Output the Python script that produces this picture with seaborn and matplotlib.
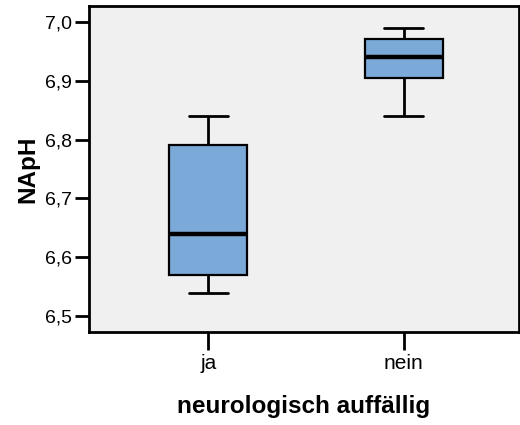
import numpy as np
import pandas as pd
import seaborn as sns
import matplotlib
matplotlib.use("Agg")
import matplotlib.pyplot as plt
from matplotlib.ticker import FixedLocator, FuncFormatter

# Five-number summaries per group (min, Q1, median, Q3, max)
groups = ["ja", "nein"]
ja_values = [6.54, 6.57, 6.64, 6.79, 6.84]
nein_values = [6.84, 6.905, 6.94, 6.97, 6.99]
y_ticks = [6.5, 6.6, 6.7, 6.8, 6.9, 7.0]

df = pd.DataFrame({
    "neurologisch auffällig": [groups[0]] * len(ja_values) + [groups[1]] * len(nein_values),
    "NApH": ja_values + nein_values,
})

sns.set_style("white")
plt.rcParams["font.family"] = ["Liberation Sans", "DejaVu Sans"]
plt.rcParams["text.color"] = "black"
plt.rcParams["axes.labelcolor"] = "black"

fig = plt.figure(figsize=(5.2, 4.25), dpi=100)
ax = fig.add_axes([0.171, 0.219, 0.827, 0.767])
ax.set_facecolor("#F0F0F0")

sns.boxplot(
    data=df, x="neurologisch auffällig", y="NApH", order=groups,
    color="#7BAAD8", width=0.4, whis=np.inf, linecolor="black",
    linewidth=2.0, saturation=1,
    medianprops={"linewidth": 3.2, "color": "black"},
    boxprops={"linewidth": 1.6, "edgecolor": "black"},
    ax=ax,
)

ax.set_xlim(-0.612, 1.59)
ax.set_ylim(6.473, 7.027)
ax.yaxis.set_major_locator(FixedLocator(y_ticks))
ax.yaxis.set_major_formatter(FuncFormatter(lambda v, p: f"{v:.1f}".replace(".", ",")))

for s in ax.spines.values():
    s.set_visible(True)
    s.set_color("black")
    s.set_linewidth(2.0)

ax.tick_params(axis="y", direction="out", length=10, width=2, pad=2,
               labelsize=14, colors="black", labelcolor="black", left=True)
ax.tick_params(axis="x", direction="out", length=13, width=2, pad=3,
               labelsize=15, colors="black", labelcolor="black", bottom=True)

ax.set_xlabel("neurologisch auffällig", fontsize=17.5, fontweight="bold",
              labelpad=16, color="black")
ax.set_ylabel("NApH", fontsize=17.5, fontweight="bold", labelpad=4, color="black")

fig.savefig("out.png", dpi=100)
